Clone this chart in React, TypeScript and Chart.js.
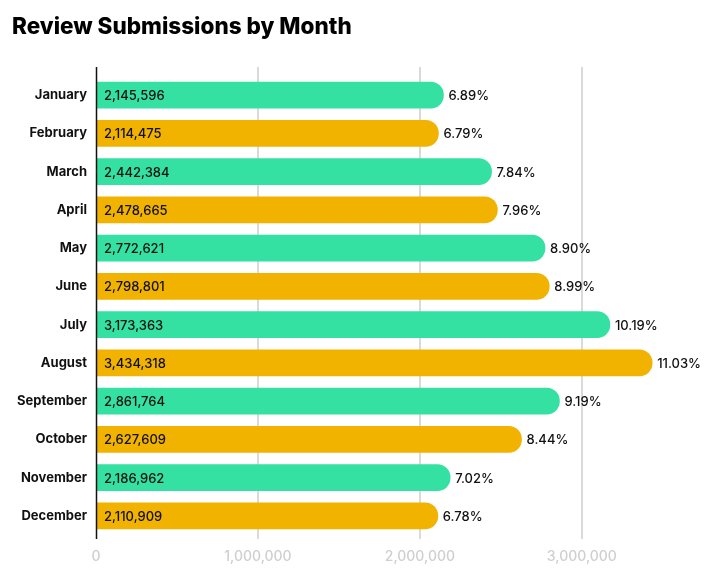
import React, { useEffect, useRef } from "react";
import { Chart, registerables } from "chart.js";

Chart.register(...registerables);

const TITLE = "Review Submissions by Month";
const MONTHS = [
  "January", "February", "March", "April", "May", "June",
  "July", "August", "September", "October", "November", "December",
];
const SUBMISSIONS = [
  2145596, 2114475, 2442384, 2478665, 2772621, 2798801,
  3173363, 3434318, 2861764, 2627609, 2186962, 2110909,
];
const SHARES = [
  "6.89%", "6.79%", "7.84%", "7.96%", "8.90%", "8.99%",
  "10.19%", "11.03%", "9.19%", "8.44%", "7.02%", "6.78%",
];
const X_TICKS = [0, 1000000, 2000000, 3000000];

const GREEN = "#35E1A2";
const GOLD = "#F1B200";
const FONT = "Inter, 'Noto Sans', sans-serif";

export default function App() {
  const ref = useRef<HTMLCanvasElement | null>(null);

  useEffect(() => {
    if (!ref.current) return;

    const decor = {
      id: "decor",
      beforeDatasetsDraw(chart: any) {
        const { ctx, chartArea, scales } = chart;
        const x = scales.x;
        const top = chartArea.top - 9;
        const bottom = chartArea.bottom + 4;
        ctx.save();
        X_TICKS.forEach((v) => {
          const px = Math.round(x.getPixelForValue(v));
          if (v === 0) return;
          ctx.strokeStyle = "#dadada";
          ctx.lineWidth = 2;
          ctx.beginPath();
          ctx.moveTo(px, top);
          ctx.lineTo(px, bottom);
          ctx.stroke();
        });
        ctx.restore();
      },
      afterDatasetsDraw(chart: any) {
        const { ctx, chartArea, scales } = chart;
        const x = scales.x;
        const meta = chart.getDatasetMeta(0);
        ctx.save();
        const x0 = Math.round(x.getPixelForValue(0)) + 0.5;
        ctx.strokeStyle = "#111";
        ctx.lineWidth = 1.5;
        ctx.beginPath();
        ctx.moveTo(x0, chartArea.top - 9);
        ctx.lineTo(x0, chartArea.bottom + 4);
        ctx.stroke();

        ctx.textBaseline = "middle";
        ctx.fillStyle = "#111";
        meta.data.forEach((bar: any, i: number) => {
          ctx.font = `500 13px ${FONT}`;
          ctx.textAlign = "left";
          ctx.fillText(
            SUBMISSIONS[i].toLocaleString("en-US"),
            x.getPixelForValue(0) + 8,
            bar.y + 1
          );
          ctx.fillText(SHARES[i], bar.x + 5, bar.y + 1);
        });

        ctx.font = `800 22.5px ${FONT}`;
        ctx.textAlign = "left";
        ctx.textBaseline = "alphabetic";
        ctx.fillStyle = "#000";
        ctx.fillText(TITLE, 12, 34);
        ctx.restore();
      },
    };

    const chart = new Chart(ref.current, {
      type: "bar",
      data: {
        labels: MONTHS,
        datasets: [
          {
            data: SUBMISSIONS,
            backgroundColor: SUBMISSIONS.map((_, i) => (i % 2 === 0 ? GREEN : GOLD)),
            borderRadius: 14,
            borderSkipped: "start",
            barThickness: 26,
          },
        ],
      },
      options: {
        indexAxis: "y",
        responsive: false,
        animation: false,
        devicePixelRatio: 1,
        layout: { padding: { top: 76, right: 35, left: 0, bottom: 0 } },
        plugins: {
          legend: { display: false },
          title: { display: false },
          tooltip: { enabled: false },
        },
        scales: {
          x: {
            min: 0,
            max: 3600000,
            border: { display: false },
            grid: { display: false, drawTicks: false },
            afterBuildTicks: (scale: any) => {
              scale.ticks = X_TICKS.map((v) => ({ value: v }));
            },
            afterFit: (scale: any) => {
              scale.height = 34;
            },
            ticks: {
              padding: 13,
              color: "#cfcfcf",
              font: { family: FONT, size: 14, weight: "500" },
              callback: (v: any) => Number(v).toLocaleString("en-US"),
            },
          },
          y: {
            border: { display: false },
            grid: { display: false, drawTicks: false },
            afterFit: (scale: any) => {
              scale.width = 96;
            },
            ticks: {
              padding: 9,
              color: "#111",
              font: { family: FONT, size: 13, weight: "700" },
            },
          },
        },
      },
      plugins: [decor],
    });

    return () => chart.destroy();
  }, []);

  return (
    <div style={{ position: "absolute", left: 0, top: 0, width: 714, height: 569, background: "#fff" }}>
      <canvas ref={ref} width={714} height={569} />
    </div>
  );
}
